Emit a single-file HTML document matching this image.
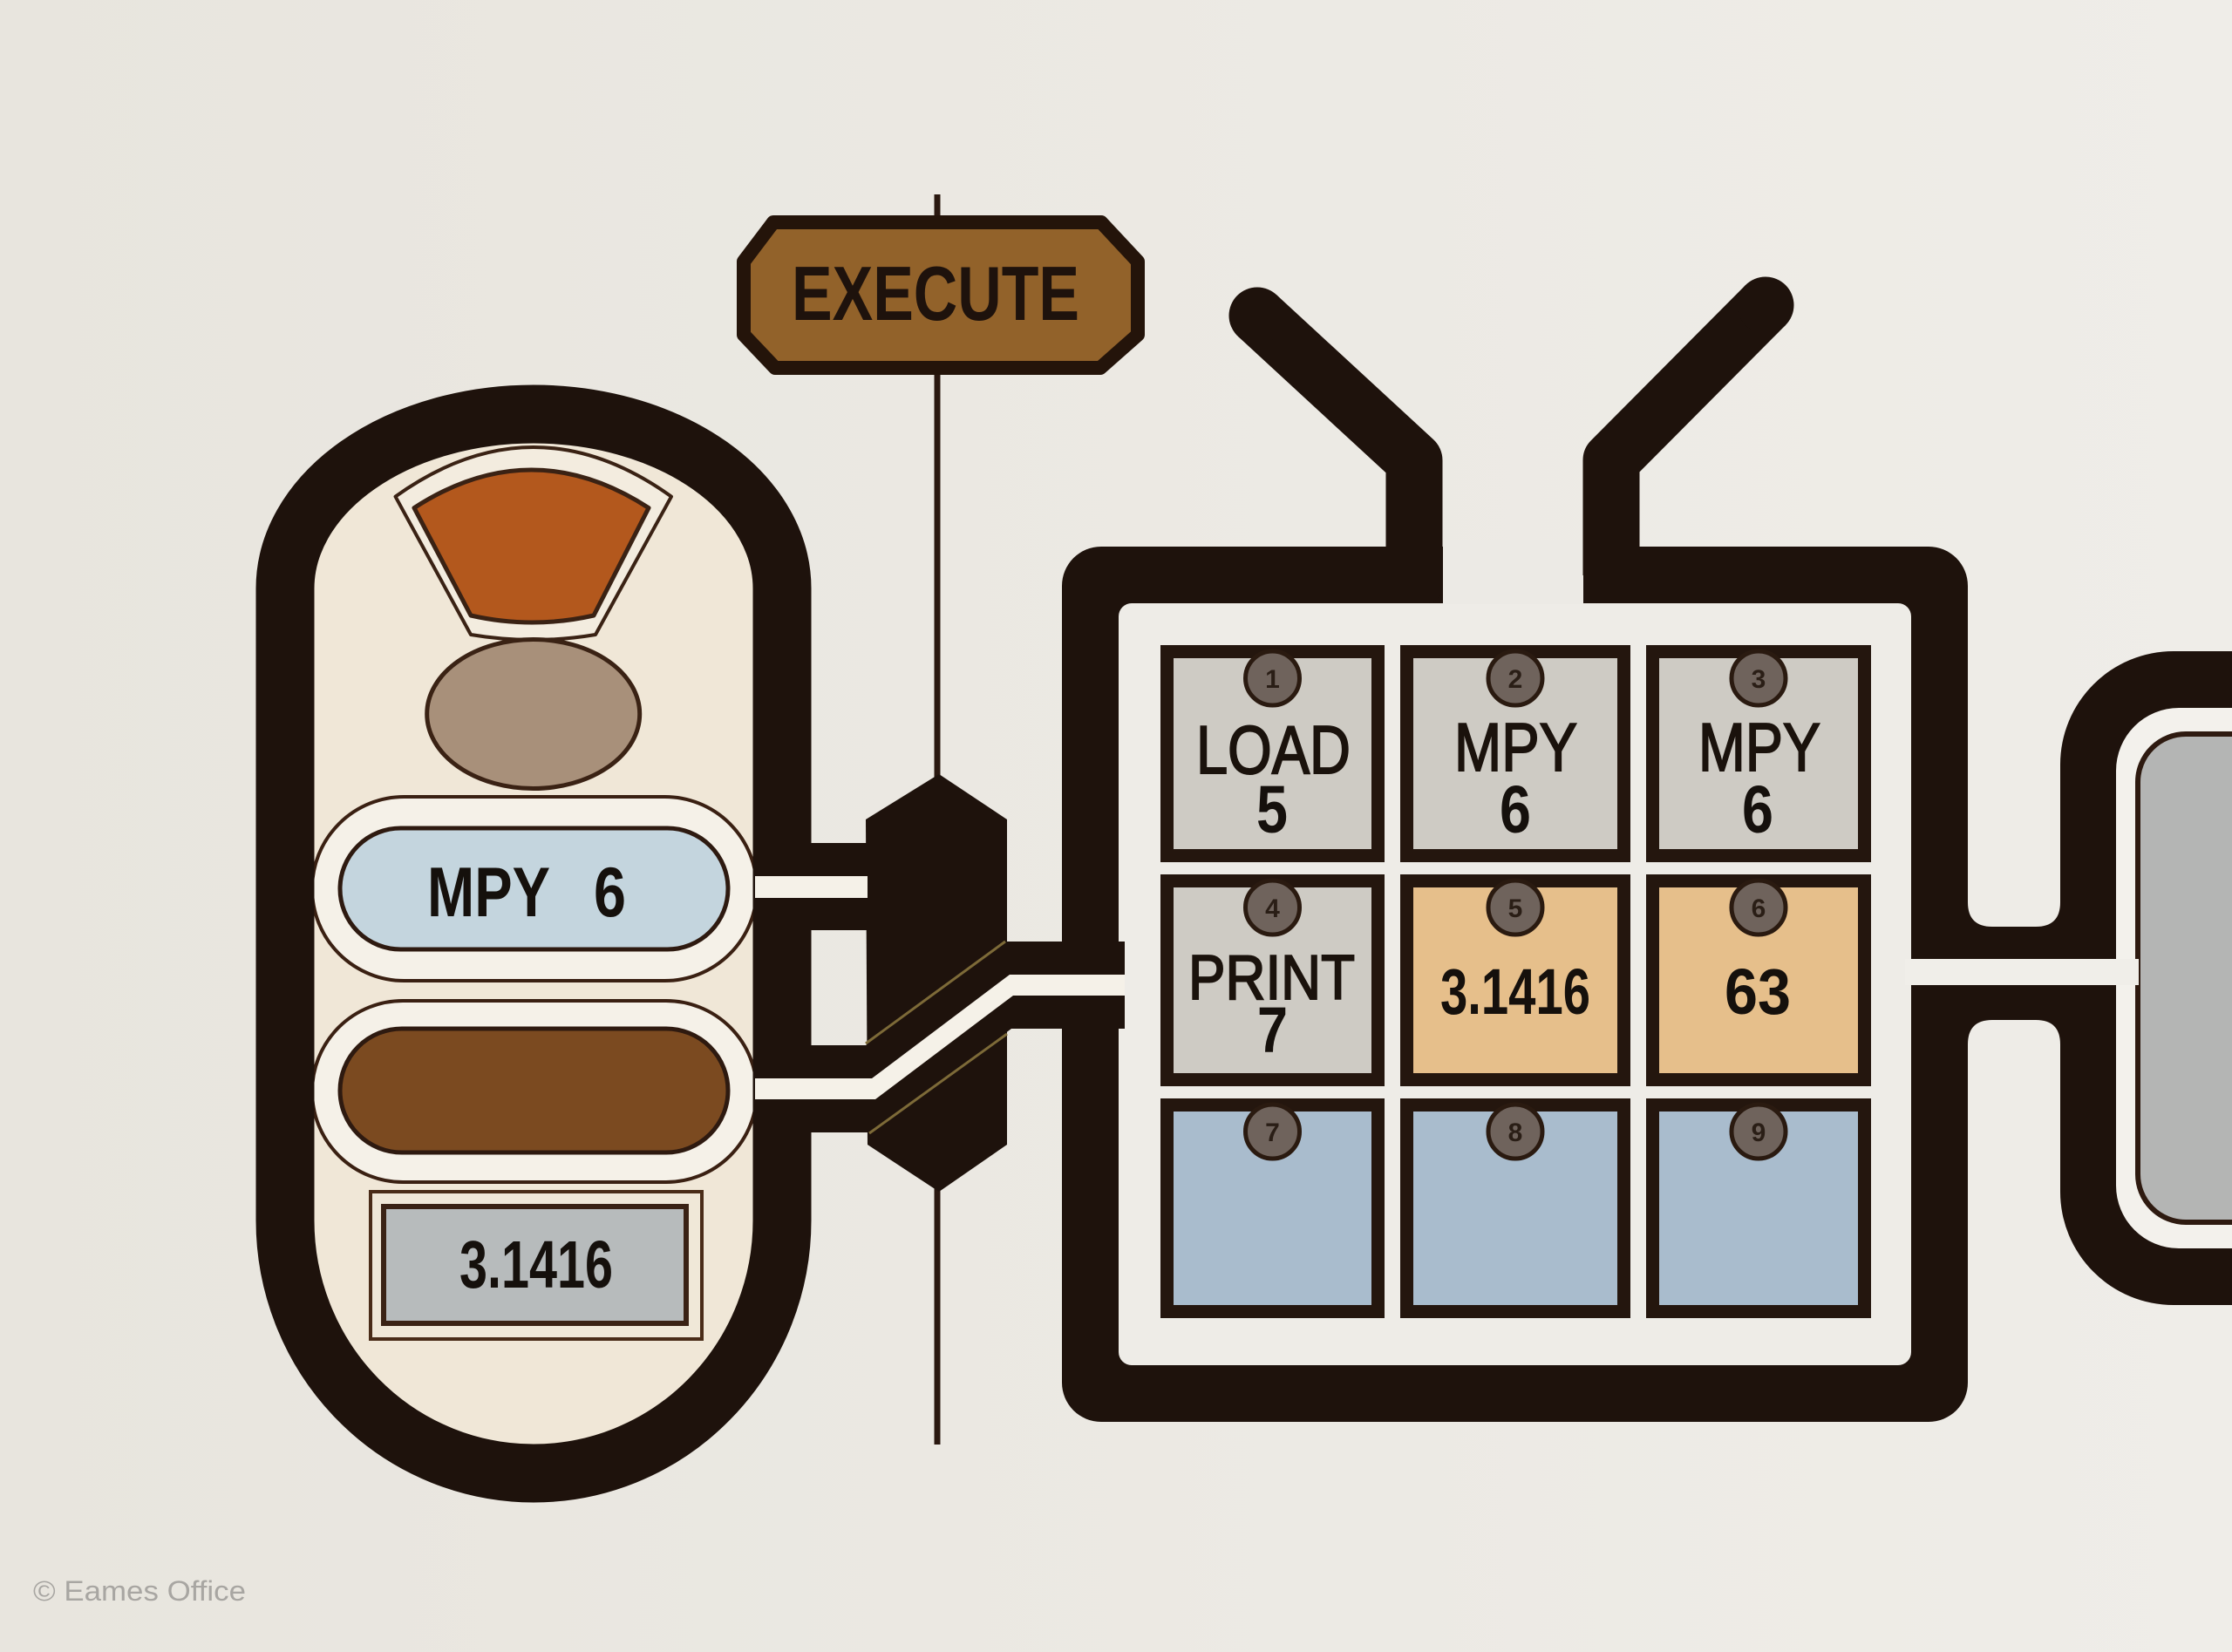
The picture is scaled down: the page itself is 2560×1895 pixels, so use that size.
<!DOCTYPE html>
<html>
<head>
<meta charset="utf-8">
<style>
  html, body { margin:0; padding:0; width:2560px; height:1895px; overflow:hidden; background:#ebe9e3; }
  svg { position:absolute; left:0; top:0; display:block; }
  text { font-family: "Liberation Sans", Arial, sans-serif; }
</style>
</head>
<body>
<svg width="2560" height="1895" viewBox="0 0 2560 1895" xmlns="http://www.w3.org/2000/svg">
  <defs>
    <linearGradient id="bg" x1="0" y1="0" x2="1" y2="0">
      <stop offset="0" stop-color="#e8e5de"/>
      <stop offset="1" stop-color="#efede8"/>
    </linearGradient>
  </defs>
  <rect x="0" y="0" width="2560" height="1895" fill="url(#bg)"/>

  <!-- vertical thin line -->
  <rect x="1071.5" y="223" width="7" height="1434" fill="#2a1810"/>

  <!-- EXECUTE box -->
  <polygon points="887,255 1263,255 1305,300 1305,384 1262,422 889,422 853,384 853,300" fill="#92622a" stroke="#24140a" stroke-width="16" stroke-linejoin="round"/>
  <text x="908" y="367" font-size="88" font-weight="bold" fill="#1e120c" textLength="330" lengthAdjust="spacingAndGlyphs">EXECUTE</text>

  <!-- LEFT CAPSULE fill -->
  <path d="M327,675 A285,200 0 0 1 897,675 L897,1400 A285,290 0 0 1 327,1400 Z" fill="#f0e7d7"/>

  <!-- sector -->
  <path d="M453.5,569.6 Q611.7,456.4 770,569.6 L683,728 Q611.7,740 540,728 Z" fill="#f3ecdf" stroke="#3a2214" stroke-width="4" stroke-linejoin="round"/>
  <path d="M475,582.6 Q609.5,495.4 744,582.6 L681,706 Q610.5,722 540,706 Z" fill="#b3581d" stroke="#3a2214" stroke-width="5" stroke-linejoin="round"/>
  <!-- ellipse -->
  <ellipse cx="611.7" cy="819" rx="122" ry="85.5" fill="#a8907a" stroke="#3a2214" stroke-width="5"/>

  <!-- MPY pill -->
  <rect x="358" y="914" width="510" height="211" rx="105.5" ry="105.5" fill="#f5f1e8" stroke="#3a2012" stroke-width="4"/>
  <rect x="390" y="950" width="445" height="139" rx="69.5" ry="69.5" fill="#c4d5de" stroke="#2e1a10" stroke-width="5"/>
  <text x="490" y="1051" font-size="81" font-weight="bold" fill="#15100c" textLength="141" lengthAdjust="spacingAndGlyphs">MPY</text>
  <text x="681" y="1051" font-size="81" font-weight="bold" fill="#15100c" textLength="37" lengthAdjust="spacingAndGlyphs">6</text>

  <!-- brown pill -->
  <rect x="358" y="1148" width="510" height="208" rx="104" ry="104" fill="#f5f1e8" stroke="#3a2012" stroke-width="4"/>
  <rect x="390" y="1180" width="445" height="142" rx="71" ry="71" fill="#7b4a20" stroke="#2e1a10" stroke-width="5"/>

  <!-- 3.1416 rect -->
  <rect x="425" y="1367" width="380" height="169" fill="#f0e8d8" stroke="#4a2c18" stroke-width="4"/>
  <rect x="440" y="1384" width="347" height="134" fill="#b7bbbc" stroke="#3a2214" stroke-width="6"/>
  <text x="527" y="1477" font-size="77" font-weight="bold" fill="#15100c" textLength="176" lengthAdjust="spacingAndGlyphs">3.1416</text>

  <!-- capsule stroke -->
  <path d="M327,675 A285,200 0 0 1 897,675 L897,1400 A285,290 0 0 1 327,1400 Z" fill="none" stroke="#1e120c" stroke-width="67"/>

  <!-- hexagon -->
  <polygon points="993,940 1077,888 1155,940 1155,1313 1077,1367 995,1313" fill="#1e120c"/>

  <!-- upper cable -->
  <rect x="928" y="967" width="67" height="100" fill="#1e120c"/>
  <rect x="866" y="1005" width="129" height="25" fill="#f5f1e8"/>

  <!-- MEMORY FRAME interior -->
  <rect x="1270" y="680" width="935" height="900" fill="#eeece7"/>

  <!-- frame (filled, rounded corners) -->
  <path fill-rule="evenodd" fill="#1e120c" d="
    M1263,627 H2212 A45,45 0 0 1 2257,672 V1586 A45,45 0 0 1 2212,1631 H1263 A45,45 0 0 1 1218,1586 V672 A45,45 0 0 1 1263,627 Z
    M1298,692 H2177 A15,15 0 0 1 2192,707 V1551 A15,15 0 0 1 2177,1566 H1298 A15,15 0 0 1 1283,1551 V707 A15,15 0 0 1 1298,692 Z"/>
  <!-- top gap between antennae -->
  <rect x="1655" y="620" width="161" height="73" fill="#eceae5"/>
  <!-- antennae -->
  <path d="M1622,660 V528 L1442,362" fill="none" stroke="#1e120c" stroke-width="65" stroke-linejoin="round" stroke-linecap="butt"/>
  <circle cx="1442" cy="362" r="32.5" fill="#1e120c"/>
  <path d="M1848,660 V528 L2025,350" fill="none" stroke="#1e120c" stroke-width="65" stroke-linejoin="round" stroke-linecap="butt"/>
  <circle cx="2025" cy="350" r="32.5" fill="#1e120c"/>
  <path d="M1590,627 H1655 V672 A20,20 0 0 1 1635,692 H1590 Z" fill="#1e120c"/>
  <path d="M1816,627 H1881 V692 H1836 A20,20 0 0 1 1816,672 Z" fill="#1e120c"/>

  <!-- lower cable sheath -->
  <polygon points="928,1199 993,1199 1153,1080 1290,1080 1290,1180 1160,1180 1000,1299 928,1299" fill="#1e120c"/>
  <!-- golden seams -->
  <line x1="993" y1="1197" x2="1153" y2="1080" stroke="#7d6a38" stroke-width="3"/>
  <line x1="997" y1="1300" x2="1155" y2="1186" stroke="#7d6a38" stroke-width="3"/>
  <!-- lower cable core -->
  <polygon points="866,1237 1000,1237 1158,1118 1290,1118 1290,1142 1162,1142 1004,1261 866,1261" fill="#f5f1e8"/>

  <!-- RIGHT RING -->
  <rect x="2427" y="812" width="300" height="620" rx="72" ry="72" fill="#f3f1ec"/>
  <rect x="2452" y="842" width="300" height="560" rx="55" ry="55" fill="#b4b5b4" stroke="#2e1a10" stroke-width="6"/>
  <path fill-rule="evenodd" fill="#1e120c" d="
    M2493,747 H2800 V1497 H2493 A130,130 0 0 1 2363,1367 V877 A130,130 0 0 1 2493,747 Z
    M2499,812 H2800 V1432 H2499 A72,72 0 0 1 2427,1360 V884 A72,72 0 0 1 2499,812 Z"/>

  <!-- right connectors -->
  <path d="M2192,1030 H2257 V1035 Q2257,1063 2285,1063 H2335 Q2363,1063 2363,1035 V1030 H2427 V1100 H2192 Z" fill="#1e120c"/>
  <path d="M2192,1130 H2427 V1200 H2363 V1198 Q2363,1170 2335,1170 H2285 Q2257,1170 2257,1198 V1200 H2192 Z" fill="#1e120c"/>
  <rect x="2185" y="1100" width="268" height="30" fill="#f0eee9"/>

  <!-- CELLS -->
  <g stroke="#24160e" stroke-width="15">
    <rect x="1338.5" y="747.5" width="242" height="234" fill="#cecbc4"/>
    <rect x="1613.5" y="747.5" width="249" height="234" fill="#cecbc4"/>
    <rect x="1895.5" y="747.5" width="243" height="234" fill="#cecbc4"/>
    <rect x="1338.5" y="1010.5" width="242" height="228" fill="#cecbc4"/>
    <rect x="1613.5" y="1010.5" width="249" height="228" fill="#e6bf8b"/>
    <rect x="1895.5" y="1010.5" width="243" height="228" fill="#e6bf8b"/>
    <rect x="1338.5" y="1267.5" width="242" height="237" fill="#a9bccd"/>
    <rect x="1613.5" y="1267.5" width="249" height="237" fill="#a9bccd"/>
    <rect x="1895.5" y="1267.5" width="243" height="237" fill="#a9bccd"/>
  </g>

  <!-- badges -->
  <g fill="#6f635c" stroke="#2a1a10" stroke-width="5">
    <circle cx="1459.5" cy="778" r="31"/>
    <circle cx="1738" cy="778" r="31"/>
    <circle cx="2017" cy="778" r="31"/>
    <circle cx="1459.5" cy="1041" r="31"/>
    <circle cx="1738" cy="1041" r="31"/>
    <circle cx="2017" cy="1041" r="31"/>
    <circle cx="1459.5" cy="1298" r="31"/>
    <circle cx="1738" cy="1298" r="31"/>
    <circle cx="2017" cy="1298" r="31"/>
  </g>
  <g font-size="30" font-weight="bold" fill="#2a1e16" text-anchor="middle">
    <text x="1459.5" y="789">1</text>
    <text x="1738" y="789">2</text>
    <text x="2017" y="789">3</text>
    <text x="1459.5" y="1052">4</text>
    <text x="1738" y="1052">5</text>
    <text x="2017" y="1052">6</text>
    <text x="1459.5" y="1309">7</text>
    <text x="1738" y="1309">8</text>
    <text x="2017" y="1309">9</text>
  </g>

  <!-- cell texts -->
  <g fill="#1a120c" stroke="#1a120c" stroke-width="2">
    <text x="1372" y="887" font-size="78" textLength="177" lengthAdjust="spacingAndGlyphs">LOAD</text>
    <text x="1668" y="884" font-size="78" textLength="141" lengthAdjust="spacingAndGlyphs">MPY</text>
    <text x="1948" y="884" font-size="78" textLength="140" lengthAdjust="spacingAndGlyphs">MPY</text>
    <text x="1363" y="1146" font-size="72" textLength="191" lengthAdjust="spacingAndGlyphs">PRINT</text>
  </g>
  <g fill="#15100c" font-weight="bold">
    <text x="1441" y="955" font-size="77" textLength="36" lengthAdjust="spacingAndGlyphs">5</text>
    <text x="1720" y="955" font-size="77" textLength="36" lengthAdjust="spacingAndGlyphs">6</text>
    <text x="1998" y="955" font-size="77" textLength="36" lengthAdjust="spacingAndGlyphs">6</text>
    <text x="1442" y="1207" font-size="74" textLength="35" lengthAdjust="spacingAndGlyphs">7</text>
    <text x="1652" y="1163" font-size="74" textLength="172" lengthAdjust="spacingAndGlyphs">3.1416</text>
    <text x="1978" y="1163" font-size="74" textLength="76" lengthAdjust="spacingAndGlyphs">63</text>
  </g>

  <!-- copyright -->
  <text x="38" y="1836" font-size="32" fill="#a8a6a2" textLength="244" lengthAdjust="spacingAndGlyphs">© Eames Office</text>
</svg>
</body>
</html>
